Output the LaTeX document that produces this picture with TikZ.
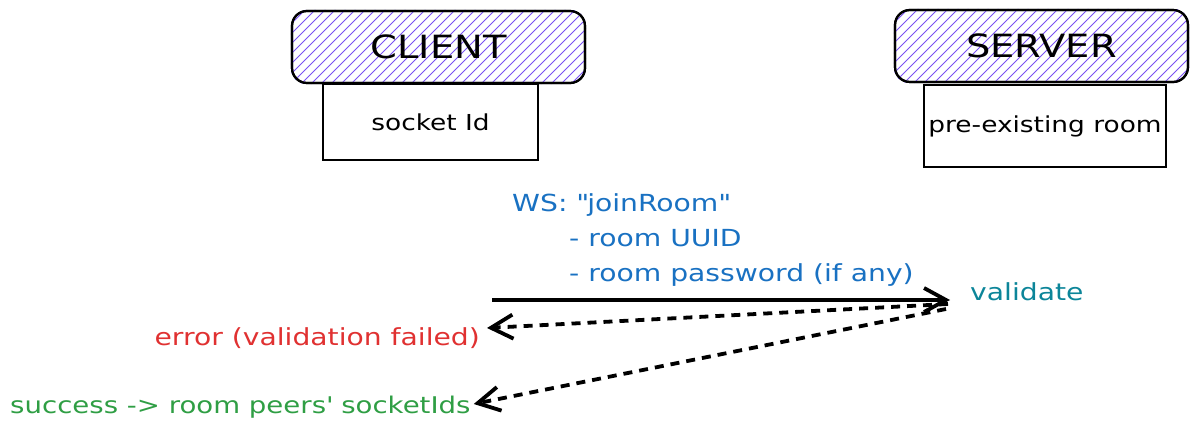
\documentclass[tikz,border=0pt]{standalone}
\usepackage{fontspec}
\setmainfont{DejaVu Sans}[FakeStretch=1.2]
\usetikzlibrary{arrows.meta}
\definecolor{hatch}{HTML}{7950F2}
\definecolor{wsblue}{HTML}{1971C2}
\definecolor{errred}{HTML}{E03131}
\definecolor{okgreen}{HTML}{2F9E44}
\definecolor{valteal}{HTML}{0C8599}
\tikzset{
  titlebox/.style={draw=black, line width=2.2pt, rounded corners=15pt,
    minimum width=293pt, minimum height=72pt, inner sep=0pt,
    font=\fontsize{32}{36}\selectfont},
  hatchline/.style={draw=hatch, line width=0.9pt},
  infobox/.style={draw=black, line width=2.2pt, fill=white, inner sep=0pt,
    font=\fontsize{22}{26}\selectfont},
  lbl/.style={inner sep=0pt, font=\fontsize{23.5}{35}\selectfont},
  arr/.style={line width=3.8pt, -{Straight Barb[length=22pt,width=24pt,line width=3.8pt]}},
  darr/.style={arr, dash pattern=on 9pt off 7pt},
}
\newcommand{\hatchbox}[1]{%
  \begin{scope}
    \clip[rounded corners=15pt] (#1.south west) rectangle (#1.north east);
    \foreach \i in {-80,-70,...,300}
      \draw[hatchline] ([xshift=\i pt]#1.south west) -- ++(90,-90);
  \end{scope}}
\begin{document}
\begin{tikzpicture}[x=1pt,y=-1pt]
\useasboundingbox (0,0) rectangle (1198,435);
% client
\node[infobox, minimum width=215pt, minimum height=76pt] (cid) at (430.5,122) {socket Id};
\node[titlebox] (client) at (438.5,47) {\phantom{CLIENT}};
\hatchbox{client}
\node[titlebox] at (client.center) {CLIENT};
% server
\node[infobox, minimum width=242pt, minimum height=82pt] (sroom) at (1045,126) {pre-existing room};
\node[titlebox] (server) at (1041.5,46) {\phantom{SERVER}};
\hatchbox{server}
\node[titlebox] at (server.center) {SERVER};
% message label
\node[lbl, text=wsblue, align=left, anchor=north west] (ws) at (512,193)
  {WS: \textquotedbl joinRoom\textquotedbl\\\hspace*{57pt}- room UUID\\\hspace*{57pt}- room password (if any)};
\node[lbl, text=valteal, anchor=west] (val) at (970,292) {validate};
\node[lbl, text=errred, anchor=east] (err) at (480,338) {error (validation failed)};
\node[lbl, font=\fontsize{23}{35}\selectfont, text=okgreen, anchor=west] (ok) at (10,407) {success -> room peers\textquotesingle{} socketIds};
% connectors
\coordinate (src) at (492,300);
\coordinate (vtip) at (950,300);
\coordinate (d1) at (948,304);
\coordinate (d2) at (946,309);
\draw[arr] (src) -- (vtip);
\draw[darr] (d1) -- ([xshift=7pt,yshift=10pt]err.east);
\draw[darr] (d2) -- ([xshift=3pt,yshift=3pt]ok.east);
\end{tikzpicture}
\end{document}
